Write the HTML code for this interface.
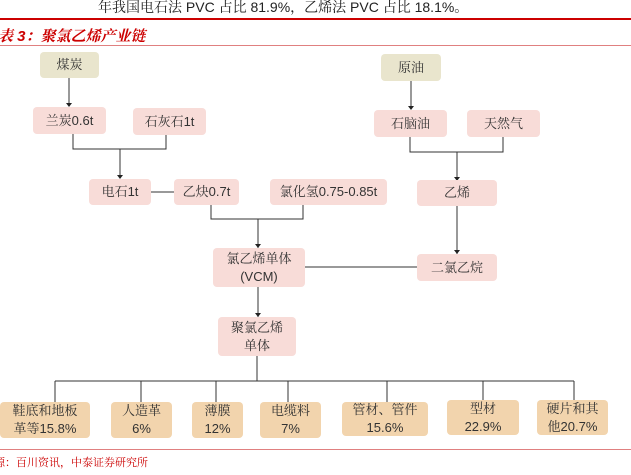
<!DOCTYPE html>
<html><head><meta charset="utf-8"><style>
body{margin:0;width:631px;height:475px;background:#fff;position:relative;overflow:hidden;font-family:"Liberation Sans","Noto Serif CJK SC",serif;}
.b{position:absolute;display:flex;align-items:center;justify-content:center;text-align:center;font-size:13px;line-height:18px;color:#333;border-radius:4px;box-sizing:border-box;font-family:"Liberation Sans","Noto Serif CJK SC",serif;}
.c{background:#e9e5cd}.p{background:#f8dcd8}.o{background:#f2d4ad}
svg{position:absolute;left:0;top:0}
</style></head><body>
<div style="position:absolute;left:98px;top:-3px;font-size:14px;color:#222;white-space:nowrap;font-family:'Liberation Sans','Noto Serif CJK SC',serif">年我国电石法 PVC 占比 81.9%，乙烯法 PVC 占比 18.1%。</div>
<div style="position:absolute;left:-2px;top:25px;font-size:15px;color:#c00;font-weight:bold;font-style:italic;white-space:nowrap;font-family:'Liberation Sans','Noto Serif CJK SC',serif">表 3：聚氯乙烯产业链</div>
<div style="position:absolute;left:0;top:18px;width:631px;height:2px;background:#c00"></div>
<div style="position:absolute;left:0;top:45px;width:631px;height:1px;background:#e08080"></div>
<div style="position:absolute;left:0;top:449px;width:631px;height:1px;background:#e08080"></div>
<div style="position:absolute;left:-6px;top:454px;font-size:11px;color:#c00;white-space:nowrap;font-family:'Liberation Sans','Noto Serif CJK SC',serif">源：百川资讯，中泰证券研究所</div>
<svg width="631" height="475">
<g stroke="#333" stroke-width="1" fill="none">
<path d="M69,78 V106"/><path d="M73,134 V149 H166 V135"/><path d="M120,149 V178"/>
<path d="M411,81 V109"/><path d="M410,137 V152 H503 V137"/><path d="M457,152 V180"/>
<path d="M151,192 H174"/><path d="M211,205 V219 H303 V205"/><path d="M258,219 V248"/>
<path d="M457,206 V254"/><path d="M305,267 H417"/><path d="M258,287 V317"/>
<path d="M257,356 V381"/><path d="M55,381 H574"/>
<path d="M55,381 V402"/><path d="M141,381 V402"/><path d="M216,381 V402"/><path d="M288,381 V402"/><path d="M387,381 V402"/><path d="M483,381 V400"/><path d="M574,381 V400"/>
</g>
<g fill="#222">
<path d="M66,103 h6 l-3,4z"/><path d="M117,175 h6 l-3,4z"/><path d="M408,106 h6 l-3,4z"/><path d="M454,177 h6 l-3,4z"/><path d="M255,244 h6 l-3,4z"/><path d="M454,250 h6 l-3,4z"/><path d="M255,313 h6 l-3,4z"/>
</g>
</svg>
<div class="b c" style="left:40px;top:52px;width:59px;height:26px">煤炭</div>
<div class="b c" style="left:381px;top:54px;width:60px;height:27px">原油</div>
<div class="b p" style="left:33px;top:107px;width:73px;height:27px">兰炭0.6t</div>
<div class="b p" style="left:133px;top:108px;width:73px;height:27px">石灰石1t</div>
<div class="b p" style="left:374px;top:110px;width:73px;height:27px">石脑油</div>
<div class="b p" style="left:467px;top:110px;width:73px;height:27px">天然气</div>
<div class="b p" style="left:89px;top:179px;width:62px;height:26px">电石1t</div>
<div class="b p" style="left:174px;top:179px;width:65px;height:26px">乙炔0.7t</div>
<div class="b p" style="left:270px;top:179px;width:117px;height:26px">氯化氢0.75-0.85t</div>
<div class="b p" style="left:417px;top:180px;width:80px;height:26px">乙烯</div>
<div class="b p" style="left:213px;top:248px;width:92px;height:39px">氯乙烯单体<br>(VCM)</div>
<div class="b p" style="left:417px;top:254px;width:80px;height:27px">二氯乙烷</div>
<div class="b p" style="left:218px;top:317px;width:78px;height:39px">聚氯乙烯<br>单体</div>
<div class="b o" style="left:0px;top:402px;width:90px;height:36px">鞋底和地板<br>革等15.8%</div>
<div class="b o" style="left:111px;top:402px;width:61px;height:36px">人造革<br>6%</div>
<div class="b o" style="left:192px;top:402px;width:51px;height:36px">薄膜<br>12%</div>
<div class="b o" style="left:260px;top:402px;width:61px;height:36px">电缆料<br>7%</div>
<div class="b o" style="left:342px;top:402px;width:86px;height:34px">管材、管件<br>15.6%</div>
<div class="b o" style="left:447px;top:400px;width:72px;height:35px">型材<br>22.9%</div>
<div class="b o" style="left:537px;top:400px;width:71px;height:35px">硬片和其<br>他20.7%</div>
</body></html>
